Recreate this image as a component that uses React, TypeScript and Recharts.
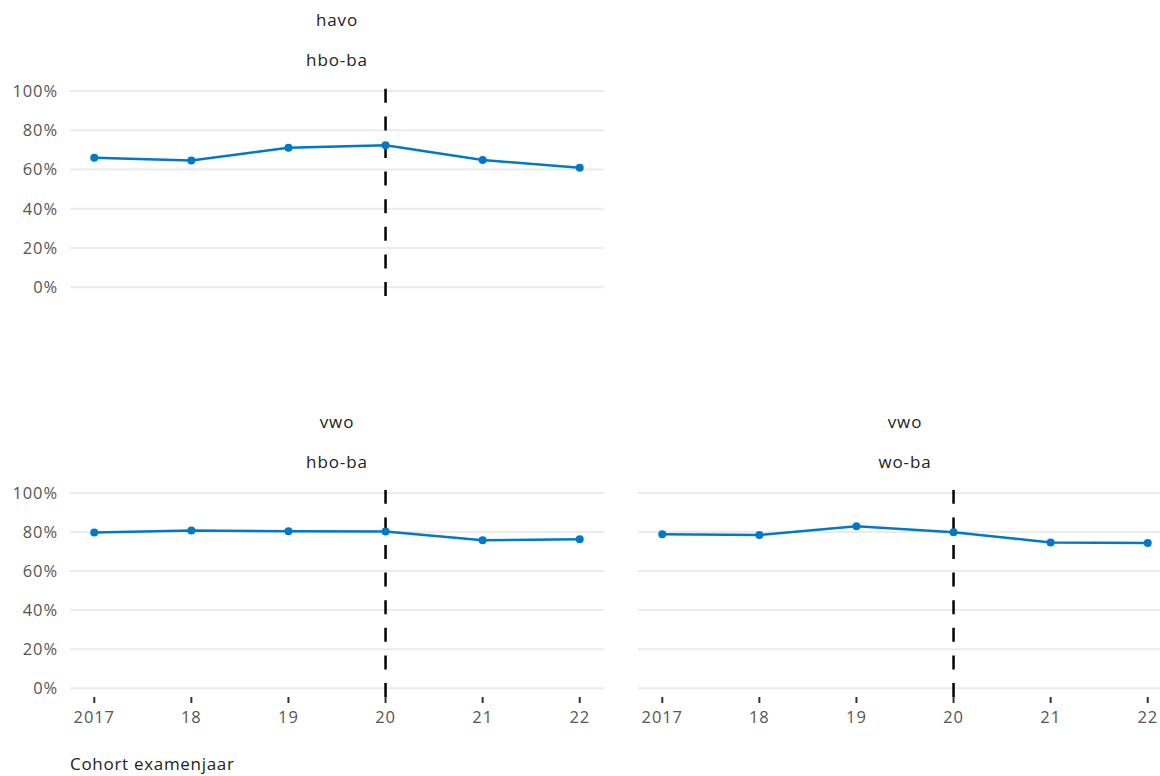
import { Line, LineChart, ReferenceLine, XAxis, YAxis } from "recharts";

const years = [2017, 2018, 2019, 2020, 2021, 2022];
const havoHbo = [65.9, 64.6, 71.1, 72.3, 64.8, 60.9];
const vwoHbo = [79.7, 80.7, 80.4, 80.2, 75.8, 76.3];
const vwoWo = [78.9, 78.5, 82.9, 79.9, 74.6, 74.4];
const yTicks = [0, 20, 40, 60, 80, 100];

const toRows = (values: number[]) => years.map((year, i) => ({ year, value: values[i] }));

const FONT = "'Open Sans', 'Noto Sans', sans-serif";
const BLUE = "#0079c6";
const tickStyle = { fill: "#555", fontSize: 16.5, fontFamily: FONT, letterSpacing: 0.9 };

function Panel({
    values,
    top,
    left,
    showYLabels,
    showXAxis,
    title1,
    title2,
}: {
    values: number[];
    top: number;
    left: number;
    showYLabels: boolean;
    showXAxis: boolean;
    title1: string;
    title2: string;
}) {
    const yWidth = showYLabels ? 70 : 0;
    const width = yWidth + 534;
    const height = showXAxis ? 257 : 228;
    return (
        <div style={{ position: "absolute", left, top, width, height: height + 90 }}>
            <div
                style={{
                    position: "absolute",
                    left: yWidth,
                    width: 534,
                    top: 0,
                    textAlign: "center",
                    fontFamily: FONT,
                    fontSize: 17,
                    letterSpacing: 0.9,
                    color: "#222",
                    lineHeight: "40px",
                }}
            >
                <div>{title1}</div>
                <div>{title2}</div>
            </div>
            <div style={{ position: "absolute", top: 78, left: 0 }}>
                <LineChart
                    width={width}
                    height={height}
                    data={toRows(values)}
                    margin={{ top: 10, right: 0, left: 0, bottom: showXAxis ? 0 : 10 }}
                >
                    <XAxis
                        dataKey="year"
                        type="number"
                        domain={[2016.75, 2022.25]}
                        ticks={years}
                        interval={0}
                        hide={!showXAxis}
                        axisLine={false}
                        tickLine={{ stroke: "#333", strokeWidth: 2 }}
                        tickSize={6}
                        tickMargin={8}
                        tick={tickStyle}
                        tickFormatter={(v: number) => (v === 2017 ? "2017" : String(v).slice(2))}
                        height={40}
                    />
                    <YAxis
                        type="number"
                        domain={[-4.5, 101.5]}
                        ticks={yTicks}
                        interval={0}
                        width={yWidth}
                        hide={!showYLabels}
                        axisLine={false}
                        tickLine={false}
                        tickMargin={6}
                        tick={tickStyle}
                        tickFormatter={(v: number) => `${v}%`}
                    />
                    {yTicks.map((t) => (
                        <ReferenceLine key={t} y={t} stroke="#ebebeb" strokeWidth={2} />
                    ))}
                    <Line
                        type="linear"
                        dataKey="value"
                        stroke={BLUE}
                        strokeWidth={2.5}
                        dot={{ r: 4, fill: BLUE, stroke: BLUE, strokeWidth: 0 }}
                        isAnimationActive={false}
                    />
                    <ReferenceLine x={2020} stroke="#000" strokeWidth={2.5} strokeDasharray="14 13.6" />
                </LineChart>
            </div>
        </div>
    );
}

export default function App() {
    return (
        <div
            style={{
                position: "absolute",
                left: 0,
                top: 0,
                width: 1160,
                height: 776,
                overflow: "hidden",
                background: "#fff",
            }}
        >
            <Panel values={havoHbo} top={0} left={0} showYLabels showXAxis={false} title1="havo" title2="hbo-ba" />
            <Panel values={vwoHbo} top={402} left={0} showYLabels showXAxis title1="vwo" title2="hbo-ba" />
            <Panel values={vwoWo} top={402} left={638} showYLabels={false} showXAxis title1="vwo" title2="wo-ba" />
            <div
                style={{
                    position: "absolute",
                    left: 70,
                    top: 752,
                    fontFamily: FONT,
                    fontSize: 17,
                    letterSpacing: 0.7,
                    color: "#222",
                }}
            >
                Cohort examenjaar
            </div>
        </div>
    );
}
